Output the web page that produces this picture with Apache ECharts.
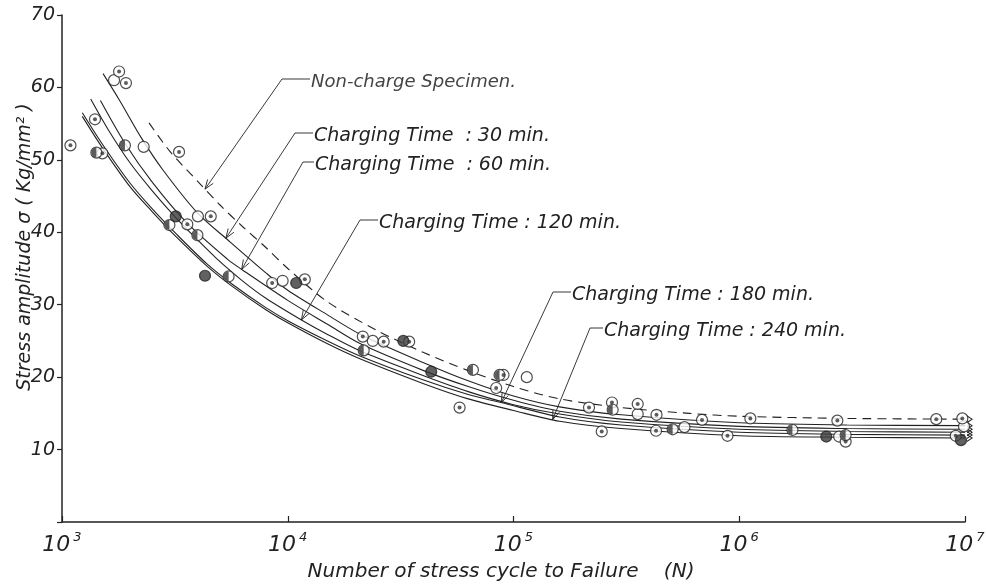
<!DOCTYPE html>
<html><head><meta charset="utf-8">
<script src="https://cdn.jsdelivr.net/npm/echarts@6/dist/echarts.min.js"></script>
<style>html,body{margin:0;padding:0;background:#fff}#main{width:986px;height:586px}</style>
</head><body><div id="main"></div>
<script>
// ---- Data (N = cycles to failure, S = stress amplitude kg/mm2) ----
const nonCharge = [[2430,55.1],[3000,51.2],[4000,47.0],[5000,43.8],[6300,40.8],[8000,37.9],[10000,35.0],[15000,30.4],[25000,26.4],[40000,23.4],[63000,20.9],[100000,18.7],[160000,17.0],[300000,15.8],[600000,15.0],[1000000,14.6],[3000000,14.3],[10000000,14.2]];
const ct30 = [[1520,61.9],[1800,58.2],[2250,53.0],[2800,48.6],[4000,42.6],[5400,39.0],[8000,34.4],[10000,32.0],[15000,28.6],[21000,25.9],[40000,22.0],[63000,19.5],[100000,17.4],[160000,15.9],[300000,14.8],[1000000,13.7],[3000000,13.4],[10000000,13.3]];
const ct60 = [[1480,58.2],[1900,52.3],[2500,47.0],[3550,41.4],[5400,36.3],[6300,34.8],[10000,30.6],[15000,27.3],[21000,24.6],[40000,20.9],[63000,18.7],[100000,16.8],[160000,15.3],[300000,14.2],[1000000,13.2],[3000000,12.9],[10000000,12.8]];
const ct120 = [[1340,58.4],[1600,54.2],[2000,49.6],[2500,45.8],[3200,42.0],[4000,38.9],[4830,36.4],[6300,33.3],[8000,30.9],[11500,27.9],[15000,25.9],[21000,23.6],[40000,20.2],[63000,18.0],[100000,16.2],[160000,14.9],[300000,13.8],[1000000,12.8],[3000000,12.5],[10000000,12.4]];
const ct180 = [[1230,56.5],[1500,52.3],[2000,46.8],[2500,43.3],[3200,39.8],[4400,35.6],[5700,32.8],[8000,29.6],[10000,27.8],[15000,25.0],[21000,22.9],[40000,19.6],[63000,17.6],[88000,16.5],[160000,14.5],[300000,13.4],[1000000,12.4],[3000000,12.1],[10000000,12.0]];
const ct240 = [[1230,56.0],[1500,51.8],[2000,46.3],[2500,42.9],[3200,39.4],[4400,35.3],[5700,32.5],[8000,29.3],[10000,27.5],[15000,24.6],[21000,22.5],[40000,19.1],[63000,17.0],[100000,15.4],[160000,13.9],[300000,12.9],[1000000,11.9],[3000000,11.7],[10000000,11.6]];

// test specimens by marker style
const openPts = [[1700,61.0],[2300,51.8],[4000,42.2],[9490,33.3],[23800,25.0],[114500,20.0],[355000,14.9],[572000,13.1],[2770000,11.8],[9900000,13.2]];
const dottedPts = [[1090,52.0],[1400,55.6],[1510,50.9],[1790,62.2],[1920,60.6],[3300,51.1],[3590,41.1],[4560,42.2],[8530,33.0],[11900,33.5],[21500,25.6],[26600,24.9],[34500,24.9],[90300,20.3],[83800,18.5],[57700,15.8],[216000,15.8],[273000,16.5],[355000,16.3],[246000,12.5],[430000,14.8],[428000,12.6],[684000,14.1],[887000,11.9],[1120000,14.3],[2720000,14.0],[2960000,11.1],[7460000,14.2],[9730000,14.3],[9100000,11.9]];
const halfPts = [[1420,51.0],[1900,52.0],[2990,41.0],[3980,39.6],[5470,33.9],[21700,23.7],[66100,21.0],[86700,20.3],[275000,15.5],[507000,12.8],[1720000,12.7],[2960000,12.0]];
const filledPts = [[3190,42.2],[4300,34.0],[10900,33.0],[32500,25.0],[43200,20.75],[2430000,11.8],[9600000,11.3]];

const curveNames = ['Non-charge Specimen.','Charging Time  : 30 min.','Charging Time  : 60 min.','Charging Time : 120 min.','Charging Time : 180 min.','Charging Time : 240 min.'];
const curves = [nonCharge, ct30, ct60, ct120, ct180, ct240];
const tipCycles = [4300, 5320, 6250, 11500, 88300, 149000];

// ---- chart ----
const INK = '#222';
const FONT = '"DejaVu Sans", sans-serif';
const chart = echarts.init(document.getElementById('main'), null, {renderer: 'canvas'});

function lineSeries(pts, idx) {
  const data = pts.map((p, i) => i === pts.length - 1 ? {
    value: p, symbol: 'path://M0,0L10,5L0,10L0,8.4L7.2,5L0,1.6Z', symbolSize: [6, 8], symbolOffset: [5, 0],
    itemStyle: {color: INK}
  } : p);
  return {
    type: 'line', name: curveNames[idx], data, smooth: 0.3, symbol: 'none',
    lineStyle: {color: INK, width: 1.1, type: idx === 0 ? [9, 6] : 'solid'},
    silent: true, z: 2, clip: false
  };
}

const option = {
  animation: false,
  backgroundColor: '#fff',
  grid: {left: 62, right: 21, top: 15, bottom: 64, containLabel: false, outerBoundsMode: 'none'},
  xAxis: {
    type: 'log', logBase: 10, min: 1000, max: 10000000,
    axisLine: {show: true, onZero: false, lineStyle: {color: INK, width: 1.5}},
    axisTick: {show: true, inside: true, length: 6, lineStyle: {color: INK, width: 1.2}},
    minorTick: {show: false}, splitLine: {show: false},
    axisLabel: {
      margin: 9, color: INK,
      formatter: v => '{b|10}{s|' + Math.round(Math.log10(v)) + '}',
      rich: {
        b: {fontFamily: FONT, fontStyle: 'italic', fontSize: 22, lineHeight: 28, color: INK},
        s: {fontFamily: FONT, fontStyle: 'italic', fontSize: 13, verticalAlign: 'top', lineHeight: 28, color: INK, padding: [0, 0, 0, 3]}
      }
    }
  },
  yAxis: {
    type: 'value', min: 0, max: 70, interval: 10,
    axisLine: {show: true, lineStyle: {color: INK, width: 1.5}},
    axisTick: {show: true, inside: false, length: 5, lineStyle: {color: INK, width: 1.2}},
    splitLine: {show: false},
    axisLabel: {margin: 7, color: INK, fontFamily: FONT, fontStyle: 'italic', fontSize: 19,
      formatter: v => v === 0 ? '' : String(v)}
  },
  series: [
    ...curves.map((c, i) => lineSeries(c, i)),
    {type: 'scatter', data: [...openPts, ...dottedPts, ...halfPts], symbol: 'circle', symbolSize: 11,
     itemStyle: {color: '#fff', borderColor: INK, borderWidth: 1.2}, z: 3, silent: true},
    {type: 'scatter', data: filledPts, symbol: 'circle', symbolSize: 11,
     itemStyle: {color: '#3a3a3a', borderColor: INK, borderWidth: 1.2}, z: 3, silent: true},
    {type: 'scatter', data: dottedPts, symbol: 'circle', symbolSize: 4,
     itemStyle: {color: '#333'}, z: 4, silent: true},
    {type: 'scatter', data: halfPts, symbol: 'path://M10,0A10,10 0 0 0 10,20Z', symbolSize: [5, 10], symbolOffset: [-2.5, 0],
     itemStyle: {color: '#333'}, z: 4, silent: true}
  ]
};
chart.setOption(option);

// ---- annotations (leader lines with arrows to the curves) ----
function sOnCurve(curve, n) {
  const L = Math.log10(n);
  for (let i = 0; i < curve.length - 1; i++) {
    const l0 = Math.log10(curve[i][0]), l1 = Math.log10(curve[i + 1][0]);
    if (L >= l0 && L <= l1) return curve[i][1] + (curve[i + 1][1] - curve[i][1]) * (L - l0) / (l1 - l0);
  }
  return curve[curve.length - 1][1];
}
const labelLayout = [
  {cx: 282, cy: 79, tx: 311, fs: 18},
  {cx: 295, cy: 133, tx: 314, fs: 19},
  {cx: 303, cy: 162, tx: 315, fs: 19},
  {cx: 360, cy: 220, tx: 379, fs: 19},
  {cx: 553, cy: 292, tx: 572, fs: 19},
  {cx: 590, cy: 328, tx: 604, fs: 19}
];
const graphics = [];
curves.forEach((c, i) => {
  const n = tipCycles[i];
  const tip = chart.convertToPixel({gridIndex: 0}, [n, sOnCurve(c, n)]);
  const lay = labelLayout[i];
  graphics.push({type: 'polyline', silent: true, z: 10,
    shape: {points: [tip, [lay.cx, lay.cy], [lay.tx - 1, lay.cy]]},
    style: {stroke: INK, lineWidth: 0.9, fill: null}});
  const dx = lay.cx - tip[0], dy = lay.cy - tip[1];
  const len = Math.hypot(dx, dy), ux = dx / len, uy = dy / len;
  const a = 20 * Math.PI / 180, h = 10;
  const p1 = [tip[0] + h * (ux * Math.cos(a) - uy * Math.sin(a)), tip[1] + h * (ux * Math.sin(a) + uy * Math.cos(a))];
  const p2 = [tip[0] + h * (ux * Math.cos(-a) - uy * Math.sin(-a)), tip[1] + h * (ux * Math.sin(-a) + uy * Math.cos(-a))];
  graphics.push({type: 'polyline', silent: true, z: 10,
    shape: {points: [p1, tip, p2]}, style: {stroke: INK, lineWidth: 0.9, fill: null}});
  graphics.push({type: 'text', silent: true, z: 10, x: lay.tx, y: lay.cy + 3,
    style: {text: curveNames[i], fontFamily: FONT, fontStyle: 'italic', fontSize: lay.fs,
      fill: i === 0 ? '#444' : INK, align: 'left', verticalAlign: 'middle'}});
});
// axis titles
graphics.push({type: 'text', silent: true, x: 25, y: 247, rotation: Math.PI / 2,
  style: {text: 'Stress amplitude σ ( Kg/mm² )', fontFamily: FONT, fontStyle: 'italic', fontSize: 19,
    fill: INK, align: 'center', verticalAlign: 'middle'}});
graphics.push({type: 'text', silent: true, x: 501, y: 572,
  style: {text: 'Number of stress cycle to Failure    (N)', fontFamily: FONT, fontStyle: 'italic', fontSize: 20,
    fill: INK, align: 'center', verticalAlign: 'middle'}});
chart.setOption({graphic: graphics});
</script></body></html>
